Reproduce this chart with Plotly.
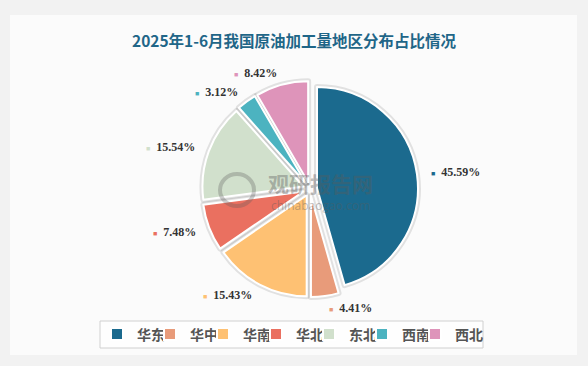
import math
import plotly.graph_objects as go

regions = ["华东", "华中", "华南", "华北", "东北", "西南", "西北"]
shares = [45.59, 4.41, 15.43, 7.48, 15.54, 3.12, 8.42]
colors = ["#1b6a8e", "#e89b7a", "#fec173", "#ea7060", "#d1e0cc", "#4cb3c0", "#de94ba"]
title_text = "2025年1-6月我国原油加工量地区分布占比情况"

W, H = 588, 366
cx, cy = 310, 189
r0 = 108
pull = 0.07
dom_x = [(cx - r0) / W, (cx + r0) / W]
dom_y = [(H - (cy + r0)) / H, (H - (cy - r0)) / H]
r = r0 / (1 + pull)

fig = go.Figure()
# soft shadow under slices
fig.add_trace(go.Pie(
    labels=regions, values=shares, sort=False, direction="clockwise", rotation=0,
    pull=[pull] * len(shares), domain=dict(x=dom_x, y=dom_y),
    marker=dict(colors=["rgba(0,0,0,0.10)"] * len(shares),
                line=dict(color="rgba(0,0,0,0.10)", width=6)),
    textinfo="none", hoverinfo="skip", showlegend=False,
))
fig.add_trace(go.Pie(
    labels=regions, values=shares, sort=False, direction="clockwise", rotation=0,
    pull=[pull] * len(shares), domain=dict(x=dom_x, y=dom_y),
    marker=dict(colors=colors, line=dict(color="white", width=2)),
    textinfo="none", showlegend=True,
))

annotations = []
total = sum(shares)
cum = 0.0
R = r * 1.19
for v, c in zip(shares, colors):
    mid = (cum + v / 2) / total * 2 * math.pi
    cum += v
    sx, cy_ = math.sin(mid), math.cos(mid)
    px = cx + R * sx
    py = cy - R * cy_
    xa = "left" if sx > 0 else "right"
    annotations.append(dict(
        x=px / W, y=(H - py) / H, xref="paper", yref="paper",
        text=f"<span style='color:{c};font-size:7px'>■</span>  {v:.2f}%",
        showarrow=False, xanchor=xa, yanchor="middle",
        font=dict(family="Liberation Serif", size=12, color="#333333", weight="bold"),
    ))

annotations.append(dict(
    x=0.5, y=(H - 40) / H, xref="paper", yref="paper", text=f"<b>{title_text}</b>",
    showarrow=False, xanchor="center", yanchor="middle",
    font=dict(family="Noto Sans CJK SC", size=15.5, color="#1f6688"),
))
# watermark
annotations.append(dict(
    x=(cx + 10) / W, y=(H - 183) / H, xref="paper", yref="paper", text="<b>观研报告网</b>",
    showarrow=False, xanchor="center", yanchor="middle",
    font=dict(family="Noto Sans CJK SC", size=21, color="rgba(90,90,90,0.40)"),
))
annotations.append(dict(
    x=(cx + 10) / W, y=(H - 206) / H, xref="paper", yref="paper", text="chinabaogao.com",
    showarrow=False, xanchor="center", yanchor="middle",
    font=dict(family="Open Sans", size=12, color="rgba(90,90,90,0.40)"),
))

fig.update_layout(
    width=W, height=H, margin=dict(l=0, r=0, t=0, b=0, autoexpand=False),
    paper_bgcolor="#f2f2f2",
    shapes=[
        dict(type="rect", xref="paper", yref="paper", x0=10 / W, x1=577 / W,
             y0=(H - 355) / H, y1=(H - 15) / H, fillcolor="#fbfbfb",
             line=dict(width=0), layer="below"),
        dict(type="rect", xref="paper", yref="paper", x0=100 / W, x1=483 / W,
             y0=(H - 348) / H, y1=(H - 321) / H, fillcolor="rgba(255,255,255,0.7)",
             line=dict(width=1, color="#d0d0d0"), layer="below"),
        # watermark logo ring
        dict(type="circle", xref="paper", yref="paper", x0=220 / W, x1=254 / W,
             y0=(H - 206) / H, y1=(H - 174) / H, fillcolor="rgba(0,0,0,0)",
             line=dict(width=4, color="rgba(90,90,90,0.30)"), layer="above"),
    ],
    annotations=annotations,
    legend=dict(orientation="h", x=97 / W, xanchor="left", y=(H - 334.5) / H, yanchor="middle",
                bgcolor="rgba(0,0,0,0)", borderwidth=0,
                font=dict(family="Noto Sans CJK SC", size=14, color="#555555", weight="bold"),
                itemwidth=30, entrywidth=8, entrywidthmode="pixels"),
)

post = """
document.body.style.margin='0';
var gd = document.getElementById('{plot_id}');
function unclip(){ gd.querySelectorAll('.legend .scrollbox, .legend').forEach(function(e){ e.removeAttribute('clip-path'); }); }
unclip(); setTimeout(unclip, 0); setTimeout(unclip, 100);
if (gd.on) { gd.on('plotly_afterplot', unclip); }
"""
fig.write_html("out.html", post_script=post, config={"displayModeBar": False})
